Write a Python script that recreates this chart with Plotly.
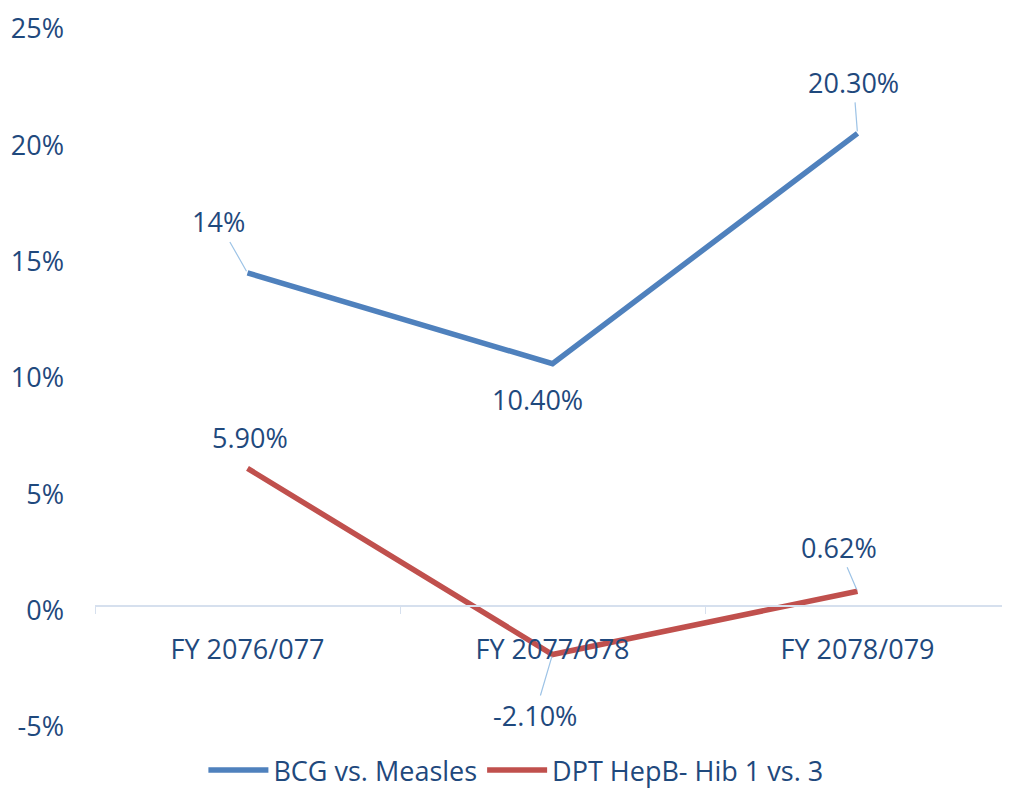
import plotly.graph_objects as go

categories = ["FY 2076/077", "FY 2077/078", "FY 2078/079"]
bcg_values = [14.3, 10.4, 20.3]
bcg_labels = ["14%", "10.40%", "20.30%"]
dpt_values = [5.9, -2.1, 0.62]
dpt_labels = ["5.90%", "-2.10%", "0.62%"]
y_ticks = [-5, 0, 5, 10, 15, 20, 25]
y_tick_labels = ["-5%", "0%", "5%", "10%", "15%", "20%", "25%"]

TEXT = "#1F497D"
FONT = "Open Sans"
FS = 27
BLUE = "#4F81BD"
RED = "#C0504D"
LEADER = "#9DC3E6"

fig = go.Figure()
fig.add_trace(go.Scatter(x=categories, y=bcg_values, mode="lines", name="BCG vs. Measles",
                         line=dict(color=BLUE, width=5.5)))
fig.add_trace(go.Scatter(x=categories, y=dpt_values, mode="lines", name="DPT HepB- Hib 1 vs. 3",
                         line=dict(color=RED, width=5.5)))

# label offsets (pixels) and whether a leader line is drawn
bcg_off = [(-29, -51, True), (-15, 36, False), (-4, -51, True)]
dpt_off = [(2, -31, False), (-18, 61, True), (-19, -44, True)]

annots = []
for vals, labs, offs in ((bcg_values, bcg_labels, bcg_off), (dpt_values, dpt_labels, dpt_off)):
    for c, v, t, (ax, ay, lead) in zip(categories, vals, labs, offs):
        annots.append(dict(x=c, y=v, xref="x", yref="y", text=t, showarrow=True,
                           ax=ax, ay=ay, arrowhead=0, arrowwidth=1.2, standoff=2,
                           arrowcolor=LEADER if lead else "rgba(0,0,0,0)",
                           font=dict(family=FONT, size=FS, color=TEXT)))

# page body has an 8px margin, so the figure is 8px smaller and margins are shifted
fig.update_layout(
    width=1002, height=787,
    margin=dict(l=87, r=0, t=16, b=69),
    paper_bgcolor="white", plot_bgcolor="white",
    font=dict(family=FONT, size=FS, color=TEXT),
    showlegend=True,
    legend=dict(orientation="h", x=0.46, xanchor="center", y=-0.07, yanchor="middle",
                font=dict(family=FONT, size=FS, color=TEXT), itemwidth=60,
                bgcolor="rgba(0,0,0,0)"),
    annotations=annots,
    xaxis=dict(type="category", range=[-0.5, 2.5], anchor="free", position=1/6,
               showline=True, linecolor="#D6E0EE", linewidth=1.5, automargin=False,
               ticks="outside", tickson="boundaries", ticklen=8, tickcolor="#D6E0EE",
               showgrid=False, zeroline=False, ticklabelstandoff=20,
               ticklabeloverflow="allow",
               tickfont=dict(family=FONT, size=FS, color=TEXT)),
    yaxis=dict(range=[-5, 25], tickvals=y_ticks, ticktext=y_tick_labels,
               showgrid=False, zeroline=False, showline=False, ticks="", automargin=False,
               ticklabelstandoff=30, ticklabelshift=5, ticklabeloverflow="allow",
               tickfont=dict(family=FONT, size=FS, color=TEXT)),
)

fig.write_html("out.html")
